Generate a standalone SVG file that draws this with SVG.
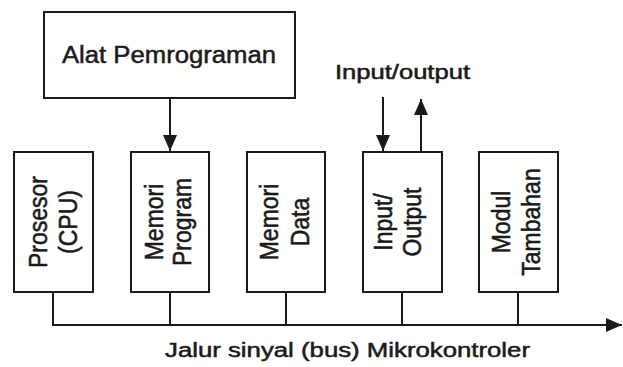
<svg xmlns="http://www.w3.org/2000/svg" width="623" height="367" viewBox="0 0 623 367">
<defs>
<style>
.box{fill:#fff;stroke:#1a1a1a;stroke-width:2}
.ln{fill:none;stroke:#1a1a1a;stroke-width:2}
.t{font-family:"Liberation Sans",Arial,sans-serif;fill:#1a1a1a;stroke:#1a1a1a;stroke-width:0.5}
.v{font-size:23px;text-anchor:middle}
</style>
<marker id="ah" markerUnits="userSpaceOnUse" markerWidth="16" markerHeight="14" refX="16" refY="7" orient="auto">
<path d="M0,0 L16,7 L0,14 z" fill="#1a1a1a"/>
</marker>
</defs>
<rect width="623" height="367" fill="#fff"/>
<g id="alat">
<rect class="box" x="44" y="12" width="251" height="86"/>
<text class="t" x="62" y="63" font-size="23" textLength="214" lengthAdjust="spacingAndGlyphs">Alat Pemrograman</text>
</g>
<g id="prosesor">
<rect class="box" x="14" y="152" width="79" height="140"/>
<text class="t v" transform="translate(47,222) scale(1.12,1) rotate(-90)">Prosesor</text>
<text class="t v" transform="translate(77,222) scale(1.12,1) rotate(-90)">(CPU)</text>
</g>
<g id="memori-program">
<rect class="box" x="131" y="152" width="78" height="140"/>
<text class="t v" transform="translate(163,222) scale(1.12,1) rotate(-90)">Memori</text>
<text class="t v" transform="translate(191,222) scale(1.12,1) rotate(-90)">Program</text>
</g>
<g id="memori-data">
<rect class="box" x="247" y="152" width="78" height="140"/>
<text class="t v" transform="translate(278,222) scale(1.12,1) rotate(-90)">Memori</text>
<text class="t v" transform="translate(309,222) scale(1.12,1) rotate(-90)">Data</text>
</g>
<g id="input-output">
<rect class="box" x="363" y="152" width="79" height="140"/>
<text class="t v" transform="translate(392,222) scale(1.12,1) rotate(-90)">Input/</text>
<text class="t v" transform="translate(421,222) scale(1.12,1) rotate(-90)">Output</text>
</g>
<g id="modul-tambahan">
<rect class="box" x="479" y="152" width="79" height="140"/>
<text class="t v" transform="translate(510,222) scale(1.12,1) rotate(-90)">Modul</text>
<text class="t v" transform="translate(540,222) scale(1.12,1) rotate(-90)">Tambahan</text>
</g>
<g id="connectors">
<line class="ln" x1="170" y1="98" x2="170" y2="151" marker-end="url(#ah)"/>
<line class="ln" x1="383" y1="97" x2="383" y2="151" marker-end="url(#ah)"/>
<line class="ln" x1="421" y1="152" x2="421" y2="99" marker-end="url(#ah)"/>
<line class="ln" x1="53" y1="292" x2="53" y2="325"/>
<line class="ln" x1="170" y1="292" x2="170" y2="325"/>
<line class="ln" x1="286" y1="292" x2="286" y2="325"/>
<line class="ln" x1="402" y1="292" x2="402" y2="325"/>
<line class="ln" x1="518" y1="292" x2="518" y2="325"/>
<line class="ln" x1="52" y1="325" x2="622" y2="325" marker-end="url(#ah)"/>
</g>
<text class="t" x="335" y="79" font-size="19.5" textLength="135" lengthAdjust="spacingAndGlyphs">Input/output</text>
<text class="t" x="165" y="357" font-size="20" textLength="365" lengthAdjust="spacingAndGlyphs">Jalur sinyal (bus) Mikrokontroler</text>
</svg>
